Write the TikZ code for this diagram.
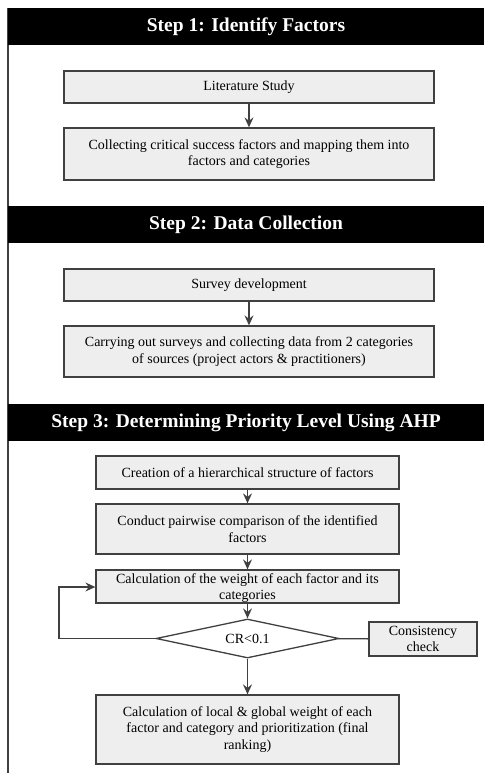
\documentclass[tikz,border=0pt]{standalone}
\usepackage{fontspec}
\setmainfont{Liberation Serif}
\usetikzlibrary{shapes.geometric,arrows.meta}
\definecolor{boxfill}{HTML}{EEEEEE}
\definecolor{edge}{HTML}{404040}
\begin{document}
\begin{tikzpicture}[x=1pt,y=-1pt,
  hdr/.style={fill=black,draw=none,text=white,font=\fontsize{19.5}{22}\selectfont\bfseries,minimum height=37pt,minimum width=476pt,inner sep=0pt},
  stepbox/.style={draw=edge,line width=1.3pt,fill=boxfill,align=center,inner sep=1pt,font=\fontsize{14}{16.7}\selectfont},
  arr/.style={draw=edge,line width=1.3pt,-{Stealth[length=10pt,width=9pt,inset=3.5pt]}},
  ln/.style={draw=edge,line width=1.3pt}]
\useasboundingbox (0,0) rectangle (484,773);
\fill[white] (0,0) rectangle (484,773);
% left frame line
\coordinate (ftop) at (8,8);
\coordinate (fbot) at (8,773);
\draw[line width=1.3pt,edge] (ftop) -- (fbot);
% headers
\node[hdr] (h1) at (246,26.5) {Step 1: Identify Factors};
\node[hdr] (h2) at (246,224.5) {Step 2: Data Collection};
\node[hdr] (h3) at (246,422.5) {Step 3: Determining Priority Level Using AHP};
% step 1
\node[stepbox,minimum width=370pt,minimum height=32pt] (lit) at (249,87) {Literature Study};
\node[stepbox,minimum width=370pt,minimum height=52pt] (col) at (249,154) {Collecting critical success factors and mapping them into\\factors and categories};
\draw[arr] (lit) -- (col);
% step 2
\node[stepbox,minimum width=370pt,minimum height=32pt] (sur) at (249,285) {Survey development};
\node[stepbox,minimum width=370pt,minimum height=51pt] (car) at (249,351.5) {Carrying out surveys and collecting data from 2 categories\\of sources (project actors \& practitioners)};
\draw[arr] (sur) -- (car);
% step 3
\node[stepbox,minimum width=303pt,minimum height=33pt] (cre) at (247.5,472.5) {Creation of a hierarchical structure of factors};
\node[stepbox,minimum width=303pt,minimum height=50pt] (con) at (247.5,529) {Conduct pairwise comparison of the identified\\factors};
\node[stepbox,minimum width=303pt,minimum height=33pt,inner sep=0pt,text depth=0pt] (cal) at (247.5,586.5) {Calculation of the weight of each factor and its\\categories};
\node[draw=edge,line width=1.3pt,fill=white,diamond,shape aspect=4.7,minimum width=183pt,minimum height=39pt,inner sep=0pt,font=\fontsize{14}{16.7}\selectfont] (cr) at (247.5,638.5) {CR<0.1};
\node[stepbox,minimum width=108pt,minimum height=34pt,inner sep=0pt] (chk) at (423,639) {Consistency\\check};
\node[stepbox,minimum width=303pt,minimum height=69pt] (fin) at (247.5,729.5) {Calculation of local \& global weight of each\\factor and category and prioritization (final\\ranking)};
\draw[arr] (cre) -- (con);
\draw[arr] (con) -- (cal);
\draw[arr] (cal) -- (cr);
\draw[arr] (cr) -- (fin);
\draw[ln] (cr) -- (chk);
\coordinate (lpA) at (59,638.5);
\coordinate (lpB) at (59,587);
\draw[arr] (cr.west) -- (lpA) -- (lpB) -- (cal.west |- lpB);
\end{tikzpicture}
\end{document}
